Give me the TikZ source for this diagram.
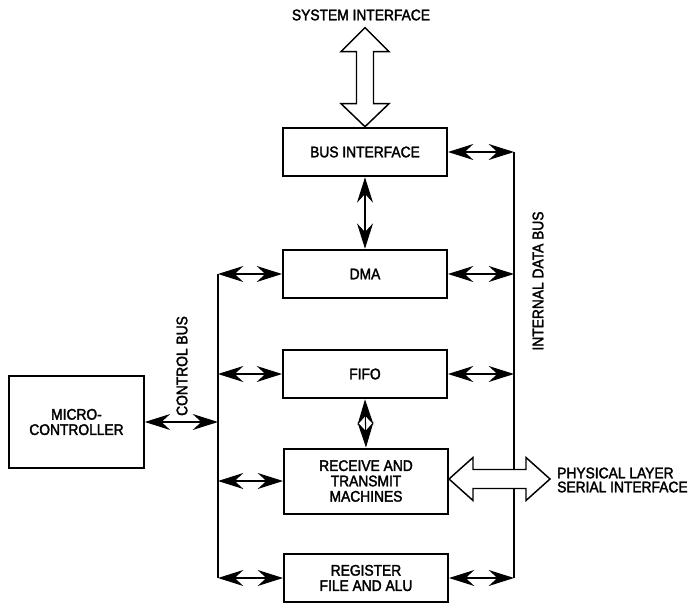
\documentclass[tikz,border=0pt]{standalone}
\usepackage{fontspec}
\setmainfont{Liberation Sans}[FakeBold=2.2,FakeStretch=0.9]
\usepackage{tikz}
\usetikzlibrary{arrows.meta,positioning,calc}

\begin{document}
\begin{tikzpicture}[x=0.75pt,y=-0.75pt,>={Stealth[length=19pt,width=12pt,inset=6.5pt]},
    every node/.style={font=\fontsize{11.5}{11.5}\selectfont,inner sep=0pt},
    blk/.style={draw,line width=1.5pt,align=center,minimum width=123pt,minimum height=36.5pt},
    link/.style={<->,line width=0.8pt},
    hollow/.style={draw,fill=white,line width=1.1pt,line join=miter}]
  \useasboundingbox (0,0) rectangle (694,603);
  % Blocks
  \node[blk] (bus) at (365,152) {BUS INTERFACE};
  \node[blk] (dma) at (365,274) {DMA};
  \node[blk] (fifo) at (365,374) {FIFO};
  \node[blk,minimum height=48.75pt] (rx) at (366,481) {RECEIVE AND\\TRANSMIT\\MACHINES};
  \node[blk,minimum height=35.5pt] (reg) at (366,578) {REGISTER\\FILE AND ALU};
  \node[blk,minimum width=101pt,minimum height=69pt] (mc) at (76.5,422) {MICRO-\\CONTROLLER};
  % Bus lines
  \coordinate (cb) at (218,0);
  \coordinate (db) at (514,0);
  \draw[line width=0.8pt] (dma.west -| cb) -- (reg.west -| cb);
  \draw[line width=0.8pt] (bus.east -| db) -- (reg.east -| db);
  % Control bus taps
  \foreach \b in {dma,fifo,rx,reg}
    \draw[link] (\b.west) -- (\b.west -| cb);
  \draw[link] (mc.east) -- (mc.east -| cb);
  % Data bus taps
  \foreach \b in {bus,dma,fifo,reg}
    \draw[link] (\b.east) -- (\b.east -| db);
  \draw[link] (bus.south) -- (dma.north);
  \draw[link] (fifo.south) -- (rx.north);
  % Wide arrows
  \draw[hollow] (bus.north) -- ++(-24,-23) -- ++(15.5,0) -- ++(0,-52) -- ++(-15.5,0)
    -- ++(24,-24) -- ++(24,24) -- ++(-15.5,0) -- ++(0,52) -- ++(15.5,0) -- cycle;
  \draw[hollow] ($(rx.east)+(0,-2)$) -- ++(24,-21.5) -- ++(0,12) -- ++(53,0) -- ++(0,-12)
    -- ++(24,21.5) -- ++(-24,21.5) -- ++(0,-12) -- ++(-53,0) -- ++(0,12) -- cycle;
  % Labels
  \node (sysif) at (361,15) {SYSTEM INTERFACE};
  \node[rotate=90] (dblabel) at (538,281) {INTERNAL DATA BUS};
  \node[rotate=90] (cblabel) at (182,366) {CONTROL BUS};
  \node[anchor=west,align=left,font=\fontsize{11.5}{10.5}\selectfont] (phy) at (557,480)
    {PHYSICAL LAYER\\SERIAL INTERFACE};
\end{tikzpicture}
\end{document}
